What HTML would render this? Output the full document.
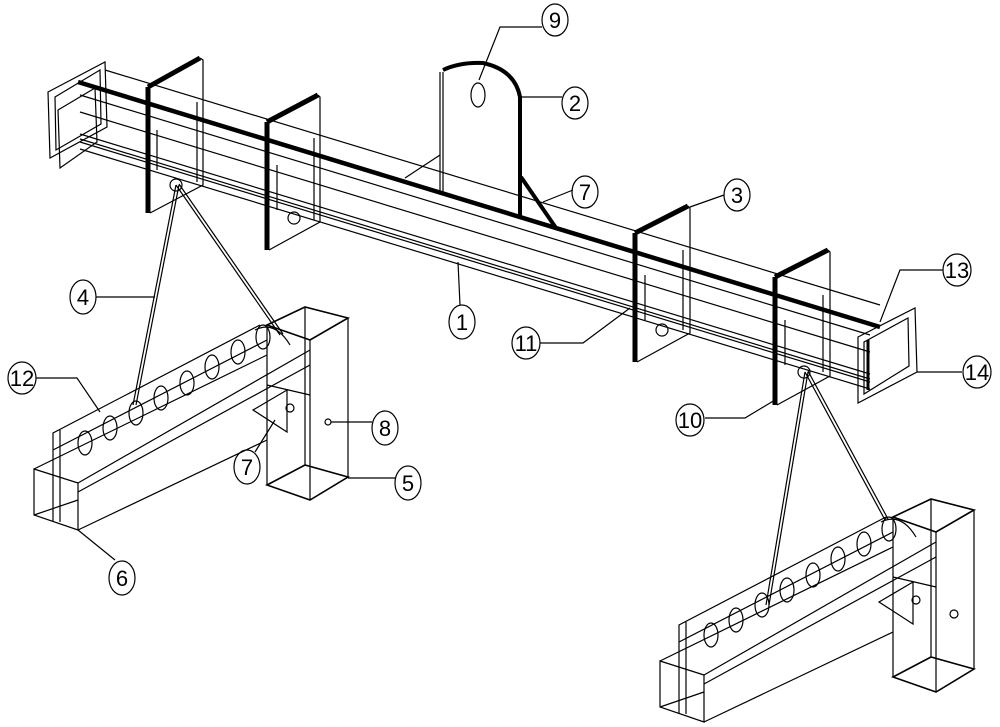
<!DOCTYPE html>
<html><head><meta charset="utf-8"><style>
html,body{margin:0;padding:0;background:#fff}
svg{display:block}
text{font-family:"Liberation Sans",sans-serif;font-size:22px}
</style></head><body>
<svg width="1000" height="727" viewBox="0 0 1000 727" xmlns="http://www.w3.org/2000/svg" fill="none" stroke="#000" stroke-width="1.2">
<!-- beam lines -->
<line x1="105" y1="70" x2="880" y2="305"/>
<line x1="80" y1="95" x2="870" y2="335"/>
<line x1="80" y1="112" x2="870" y2="352"/>
<line x1="80" y1="134" x2="870" y2="374"/>
<line x1="80" y1="139" x2="870" y2="379"/>
<line x1="80" y1="142" x2="870" y2="382"/>
<line x1="80" y1="149" x2="870" y2="389"/>
<line x1="78" y1="82" x2="880" y2="327" stroke-width="4.5"/>
<!-- left end plate -->
<polygon points="48,92 105,62 107,127 50,158"/>
<polygon points="55,97 100,70 101,124 56,150"/>
<polygon points="58,110 95,88 97,142 60,168"/>
<!-- right end plate -->
<polygon points="858,337 915,308 917,372 858,403"/>
<polygon points="864,342 908,318 909,366 864,394"/>
<line x1="868" y1="340" x2="868" y2="390" stroke-width="3"/>
<!-- vertical plates -->
<g>
<line x1="148" y1="87" x2="148" y2="213" stroke-width="5"/>
<line x1="148" y1="87" x2="200" y2="58" stroke-width="5"/>
<polyline points="200,58 203,60 203,185 150,213"/>
<line x1="157" y1="130" x2="157" y2="170"/>
<line x1="197" y1="102" x2="197" y2="182"/>
<circle cx="176" cy="185" r="6"/>
</g>
<g>
<line x1="267" y1="122" x2="267" y2="250" stroke-width="5"/>
<line x1="267" y1="122" x2="318" y2="95" stroke-width="5"/>
<polyline points="318,95 320,97 320,222 269,250"/>
<line x1="277" y1="165" x2="277" y2="210"/>
<line x1="314" y1="138" x2="314" y2="220"/>
<circle cx="294" cy="218" r="6"/>
</g>
<g>
<line x1="635" y1="233" x2="635" y2="362" stroke-width="5"/>
<line x1="635" y1="233" x2="688" y2="206" stroke-width="5"/>
<polyline points="688,206 690,208 690,333 637,362"/>
<line x1="645" y1="275" x2="645" y2="320"/>
<line x1="683" y1="250" x2="683" y2="330"/>
<circle cx="662" cy="330" r="6"/>
</g>
<g>
<line x1="775" y1="277" x2="775" y2="405" stroke-width="5"/>
<line x1="775" y1="277" x2="828" y2="250" stroke-width="5"/>
<polyline points="828,250 830,252 830,376 777,405"/>
<line x1="785" y1="320" x2="785" y2="365"/>
<line x1="823" y1="295" x2="823" y2="372"/>
<circle cx="804" cy="372" r="6"/>
</g>
<!-- hook plate -->
<line x1="440" y1="72" x2="440" y2="193"/>
<line x1="443" y1="72" x2="443" y2="194"/>
<path d="M443,70 Q460,62 483,63 Q515,70 520,97 L520,218" stroke-width="4"/>
<ellipse cx="478" cy="95" rx="7" ry="12"/>
<line x1="521" y1="177" x2="556" y2="228" stroke-width="4"/>
<line x1="440" y1="155" x2="405" y2="178"/>
<!-- wires -->
<line x1="176" y1="185" x2="133" y2="405"/><line x1="179" y1="185" x2="136" y2="405"/>
<line x1="176" y1="185" x2="280" y2="335"/><line x1="179" y1="184" x2="283" y2="334"/>
<line x1="805" y1="372" x2="766" y2="605"/><line x1="808" y1="372" x2="769" y2="605"/>
<line x1="805" y1="372" x2="885" y2="520"/><line x1="808" y1="371" x2="888" y2="519"/>
<!-- lower assembly (left) -->
<g id="asm">
<polygon points="267,325 305,307 348,318 310,340" stroke-width="1.6"/>
<polygon points="267,485 305,465 348,477 310,500" stroke-width="1.6"/>
<line x1="267" y1="325" x2="267" y2="485"/>
<line x1="305" y1="307" x2="305" y2="465"/>
<line x1="348" y1="318" x2="348" y2="477"/>
<line x1="310" y1="340" x2="310" y2="500"/>
<circle cx="328" cy="422" r="3"/>
<polyline points="53,522 53,433 260,325"/>
<line x1="60" y1="430" x2="60" y2="522"/>
<line x1="53" y1="450" x2="267" y2="340"/>
<polygon points="34,469 78,483 78,530 34,515"/>
<line x1="34" y1="469" x2="267" y2="355"/>
<line x1="78" y1="483" x2="310" y2="350"/>
<line x1="78" y1="492" x2="310" y2="365"/>
<line x1="78" y1="530" x2="267" y2="440"/>
<line x1="34" y1="515" x2="78" y2="500"/>
<line x1="267" y1="385" x2="310" y2="395"/>
<polygon points="253,410 287,390 287,432"/>
<circle cx="290" cy="408" r="4"/>
<path d="M255,330 Q275,320 290,345"/>
<ellipse cx="85" cy="443" rx="7" ry="12"/>
<ellipse cx="110" cy="428" rx="7" ry="12"/>
<ellipse cx="136" cy="413" rx="7" ry="12"/>
<ellipse cx="161" cy="398" rx="7" ry="12"/>
<ellipse cx="187" cy="383" rx="7" ry="12"/>
<ellipse cx="212" cy="367" rx="7" ry="12"/>
<ellipse cx="238" cy="352" rx="7" ry="12"/>
<ellipse cx="263" cy="337" rx="7" ry="12"/>
</g>
<g transform="translate(626,192)">
<polygon points="267,325 305,307 348,318 310,340" stroke-width="1.6"/>
<polygon points="267,485 305,465 348,477 310,500" stroke-width="1.6"/>
<line x1="267" y1="325" x2="267" y2="485"/>
<line x1="305" y1="307" x2="305" y2="465"/>
<line x1="348" y1="318" x2="348" y2="477"/>
<line x1="310" y1="340" x2="310" y2="500"/>
<circle cx="328" cy="422" r="4"/>
<polyline points="53,522 53,433 260,325"/>
<line x1="60" y1="430" x2="60" y2="522"/>
<line x1="53" y1="450" x2="267" y2="340"/>
<polygon points="34,469 78,483 78,530 34,515"/>
<line x1="34" y1="469" x2="267" y2="355"/>
<line x1="78" y1="483" x2="310" y2="350"/>
<line x1="78" y1="492" x2="310" y2="365"/>
<line x1="78" y1="530" x2="267" y2="440"/>
<line x1="34" y1="515" x2="78" y2="500"/>
<line x1="267" y1="385" x2="310" y2="395"/>
<polygon points="253,410 287,390 287,432"/>
<circle cx="290" cy="408" r="4"/>
<path d="M255,330 Q275,320 290,345"/>
<ellipse cx="85" cy="443" rx="7" ry="12"/>
<ellipse cx="110" cy="428" rx="7" ry="12"/>
<ellipse cx="136" cy="413" rx="7" ry="12"/>
<ellipse cx="161" cy="398" rx="7" ry="12"/>
<ellipse cx="187" cy="383" rx="7" ry="12"/>
<ellipse cx="212" cy="367" rx="7" ry="12"/>
<ellipse cx="238" cy="352" rx="7" ry="12"/>
<ellipse cx="263" cy="337" rx="7" ry="12"/>
</g>
<!-- leaders -->
<polyline points="542,27 500,27 479,80"/>
<line x1="520" y1="97" x2="562" y2="97"/>
<polyline points="543,202 573,190"/>
<line x1="690" y1="207" x2="724" y2="195"/>
<polyline points="943,270 900,270 880,322"/>
<line x1="917" y1="372" x2="962" y2="372"/>
<line x1="458" y1="262" x2="460" y2="305"/>
<polyline points="540,343 583,343 630,308"/>
<polyline points="705,418 745,418 775,400"/>
<line x1="96" y1="297" x2="155" y2="297"/>
<polyline points="36,378 77,378 100,412"/>
<line x1="331" y1="422" x2="372" y2="422"/>
<polyline points="255,452 275,420"/>
<line x1="348" y1="478" x2="395" y2="478"/>
<line x1="78" y1="530" x2="115" y2="560"/>
<!-- labels -->
<g stroke-width="1.2">
<ellipse cx="555" cy="20" rx="13" ry="16"/>
<ellipse cx="575" cy="103" rx="13" ry="16"/>
<ellipse cx="585" cy="192" rx="13" ry="16"/>
<ellipse cx="737" cy="195" rx="13" ry="16"/>
<ellipse cx="957" cy="270" rx="14" ry="16"/>
<ellipse cx="977" cy="372" rx="14" ry="16"/>
<ellipse cx="462" cy="322" rx="13" ry="17"/>
<ellipse cx="526" cy="343" rx="14" ry="16"/>
<ellipse cx="690" cy="420" rx="14" ry="16"/>
<ellipse cx="83" cy="297" rx="13" ry="17"/>
<ellipse cx="22" cy="378" rx="14" ry="16"/>
<ellipse cx="385" cy="428" rx="13" ry="17"/>
<ellipse cx="247" cy="467" rx="13" ry="17"/>
<ellipse cx="408" cy="483" rx="13" ry="17"/>
<ellipse cx="122" cy="578" rx="13" ry="17"/>
</g>
<g fill="#000" stroke="none" text-anchor="middle">
<text x="555" y="28">9</text>
<text x="575" y="111">2</text>
<text x="585" y="200">7</text>
<text x="737" y="203">3</text>
<text x="957" y="278" font-size="19">13</text>
<text x="977" y="380" font-size="19">14</text>
<text x="462" y="330">1</text>
<text x="526" y="351" font-size="19">11</text>
<text x="690" y="428" font-size="19">10</text>
<text x="83" y="305">4</text>
<text x="22" y="386" font-size="19">12</text>
<text x="385" y="436">8</text>
<text x="247" y="475">7</text>
<text x="408" y="491">5</text>
<text x="122" y="586">6</text>
</g>
</svg>
</body></html>
